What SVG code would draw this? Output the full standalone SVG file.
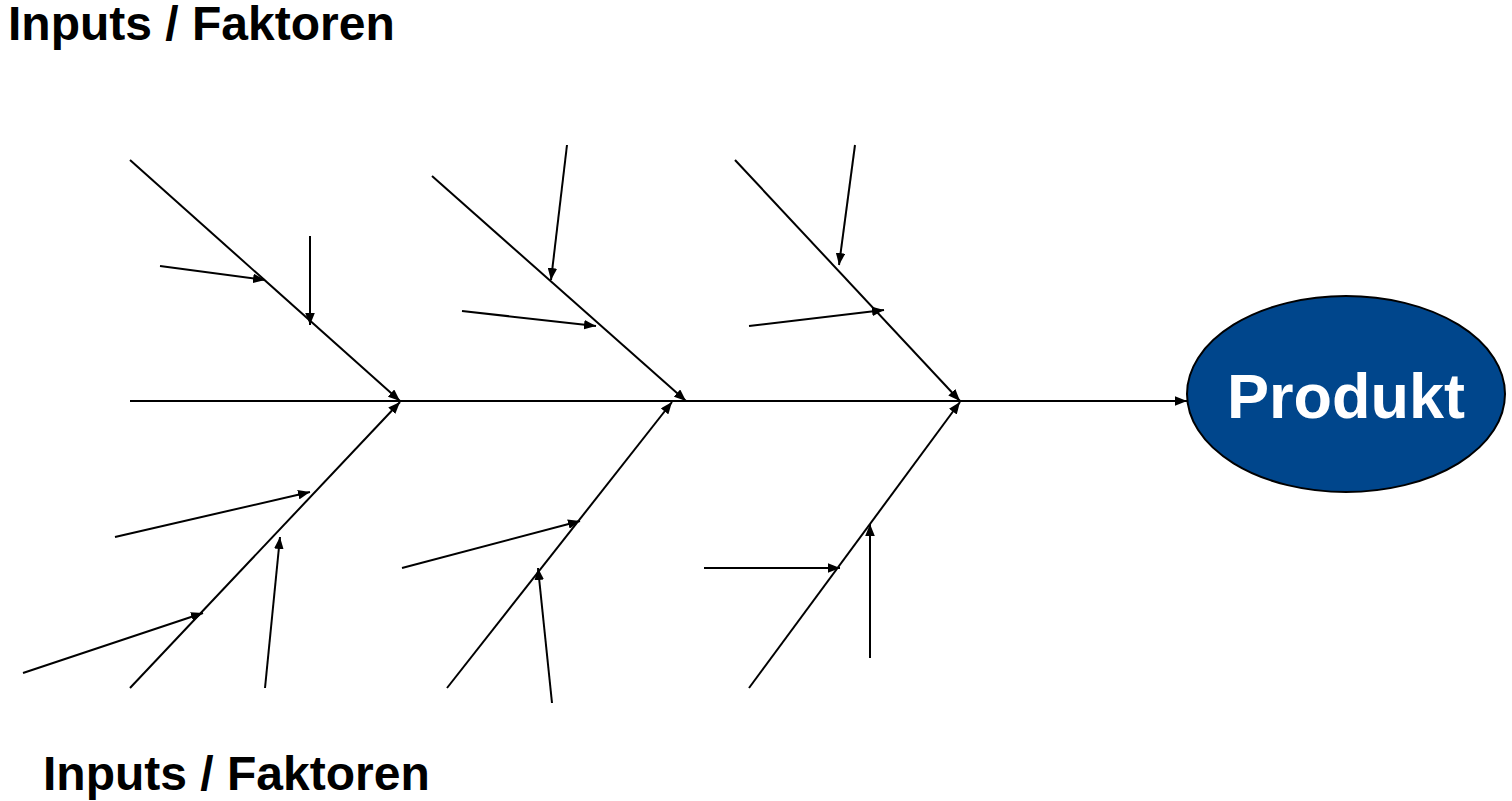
<svg xmlns="http://www.w3.org/2000/svg" width="1512" height="801" viewBox="0 0 1512 801">
<style>
.l{stroke:#000;stroke-width:2;fill:none}
.a{stroke:#000;stroke-width:2;fill:none;marker-end:url(#ah)}
.t{font-family:"Liberation Sans",Arial,sans-serif;font-weight:bold;fill:#000}
</style>
<defs>
<marker id="ah" viewBox="0 0 10 8" refX="10" refY="4" markerWidth="6" markerHeight="4.8" orient="auto" markerUnits="strokeWidth">
<path d="M0,0 L10,4 L0,8 Z" fill="#000"/>
</marker>
</defs>
<rect width="1512" height="801" fill="#fff"/>
<g id="connectors">
<line class="a" x1="130" y1="401" x2="1187" y2="401"/>
<line class="a" x1="130" y1="160" x2="400" y2="401"/>
<line class="a" x1="432" y1="176" x2="686" y2="401"/>
<line class="a" x1="735" y1="160" x2="960" y2="401"/>
<line class="a" x1="130" y1="688" x2="400" y2="402"/>
<line class="a" x1="447" y1="688" x2="672" y2="402"/>
<line class="a" x1="749" y1="688" x2="960" y2="402"/>
<line class="a" x1="160" y1="266" x2="265" y2="280"/>
<line class="a" x1="310" y1="236" x2="310" y2="325"/>
<line class="a" x1="567" y1="145" x2="551" y2="280"/>
<line class="a" x1="462" y1="311" x2="596" y2="326"/>
<line class="a" x1="855" y1="145" x2="839" y2="265"/>
<line class="a" x1="749" y1="326" x2="884" y2="310"/>
<line class="a" x1="115" y1="537" x2="310" y2="492"/>
<line class="a" x1="23" y1="673" x2="203" y2="613"/>
<line class="a" x1="265" y1="688" x2="280" y2="537"/>
<line class="a" x1="402" y1="568" x2="580" y2="521"/>
<line class="a" x1="552" y1="703" x2="538" y2="568"/>
<line class="a" x1="704" y1="568" x2="840" y2="568"/>
<line class="a" x1="870" y1="658" x2="870" y2="524"/>
</g>
<g id="produkt">
<ellipse cx="1346" cy="394" rx="159" ry="98" fill="#00468C" stroke="#000" stroke-width="2"/>
<text class="t" x="1346" y="418" font-size="63" text-anchor="middle" style="fill:#fff">Produkt</text>
</g>
<g id="label-top">
<text class="t" x="8" y="40" font-size="48">Inputs / Faktoren</text>
</g>
<g id="label-bottom">
<text class="t" x="43" y="790" font-size="48">Inputs / Faktoren</text>
</g>
</svg>
